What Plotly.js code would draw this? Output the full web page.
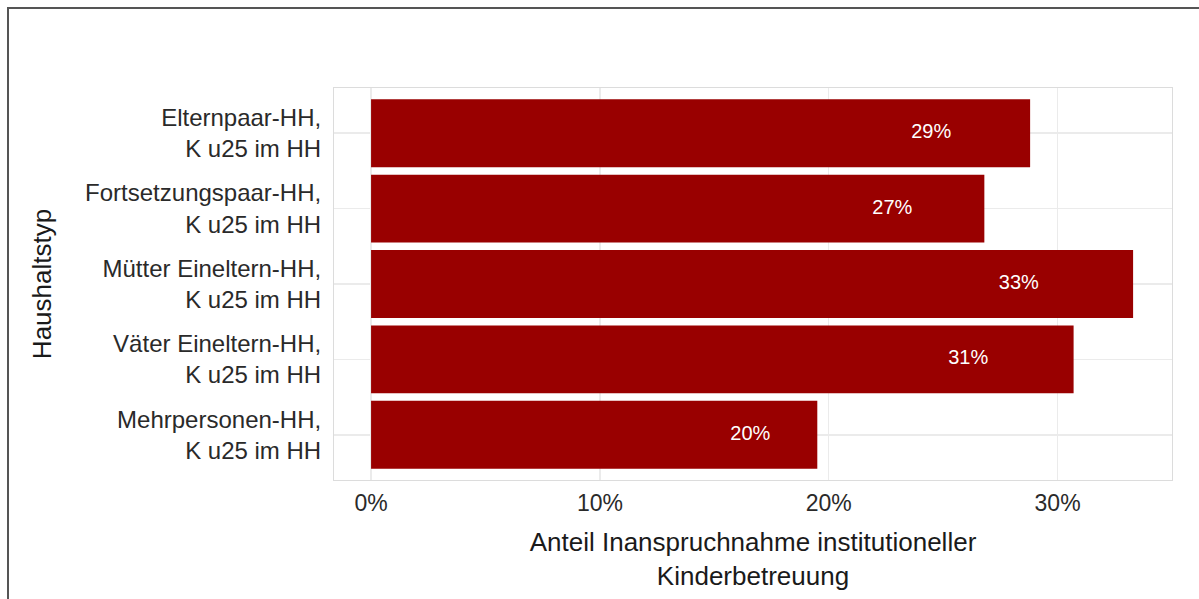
<!DOCTYPE html>
<html>
<head>
<meta charset="utf-8">
<script src="https://cdn.plot.ly/plotly-3.0.1.min.js"></script>
<style>
  html, body { margin: 0; padding: 0; background: #fff; }
  #wrap { position: relative; width: 1199px; height: 599px; overflow: hidden; }
  #frame { position: absolute; left: 7px; top: 7px; width: 1300px; height: 700px; border-left: 2px solid #555; border-top: 2px solid #555; box-sizing: border-box; pointer-events: none; }
  #chart { position: absolute; left: 0; top: 0; width: 1199px; height: 599px; }
</style>
</head>
<body>
<div id="wrap">
  <div id="chart"></div>
  <div id="frame"></div>
</div>
<script>
const categories = [
  "Elternpaar-HH,<br>K u25 im HH",
  "Fortsetzungspaar-HH,<br>K u25 im HH",
  "Mütter Eineltern-HH,<br>K u25 im HH",
  "Väter Eineltern-HH,<br>K u25 im HH",
  "Mehrpersonen-HH,<br>K u25 im HH"
];
const shares = [0.288, 0.268, 0.333, 0.307, 0.195];
const shareLabels = ["29%", "27%", "33%", "31%", "20%"];
const xTickVals = [0, 0.1, 0.2, 0.3];
const xTickText = ["0%", "10%", "20%", "30%"];

const barColor = "#990000";
const fontFamily = "Liberation Sans, Arial, sans-serif";

const traces = [
  {
    type: "bar",
    orientation: "h",
    y: categories,
    x: shares,
    width: 0.9,
    marker: { color: barColor, line: { width: 0 } },
    hoverinfo: "skip"
  },
  {
    type: "scatter",
    mode: "text",
    y: categories,
    x: shares.map(v => v * 0.85),
    text: shareLabels,
    textposition: "middle center",
    textfont: { family: fontFamily, size: 20, color: "#ffffff" },
    hoverinfo: "skip"
  }
];

const layout = {
  width: 1199,
  height: 599,
  margin: { l: 334, r: 27, t: 88, b: 119 },
  paper_bgcolor: "#ffffff",
  plot_bgcolor: "#ffffff",
  showlegend: false,
  font: { family: fontFamily, color: "#222" },
  xaxis: {
    range: [-0.0162, 0.35],
    tickvals: xTickVals,
    ticktext: xTickText,
    tickfont: { family: fontFamily, size: 23, color: "#2a2a2a" },
    showgrid: true,
    gridcolor: "#ebebeb",
    gridwidth: 1.5,
    zeroline: false,
    showline: true,
    mirror: true,
    linecolor: "#dcdcdc",
    linewidth: 1,
    ticks: "",
    ticklabelstandoff: 2,
    title: {
      text: "Anteil Inanspruchnahme institutioneller<br>Kinderbetreuung",
      font: { family: fontFamily, size: 26, color: "#1a1a1a" },
      standoff: 18
    }
  },
  yaxis: {
    type: "category",
    categoryorder: "array",
    categoryarray: categories,
    range: [4.6, -0.6],
    tickfont: { family: fontFamily, size: 24, color: "#2a2a2a" },
    showgrid: true,
    gridcolor: "#ebebeb",
    gridwidth: 1.5,
    zeroline: false,
    showline: true,
    mirror: true,
    linecolor: "#dcdcdc",
    linewidth: 1,
    ticks: "",
    ticklabelstandoff: 7,
    title: {
      text: "Haushaltstyp",
      font: { family: fontFamily, size: 26, color: "#1a1a1a" },
      standoff: 26
    }
  }
};

Plotly.newPlot("chart", traces, layout, { displayModeBar: false, staticPlot: true });
</script>
</body>
</html>
